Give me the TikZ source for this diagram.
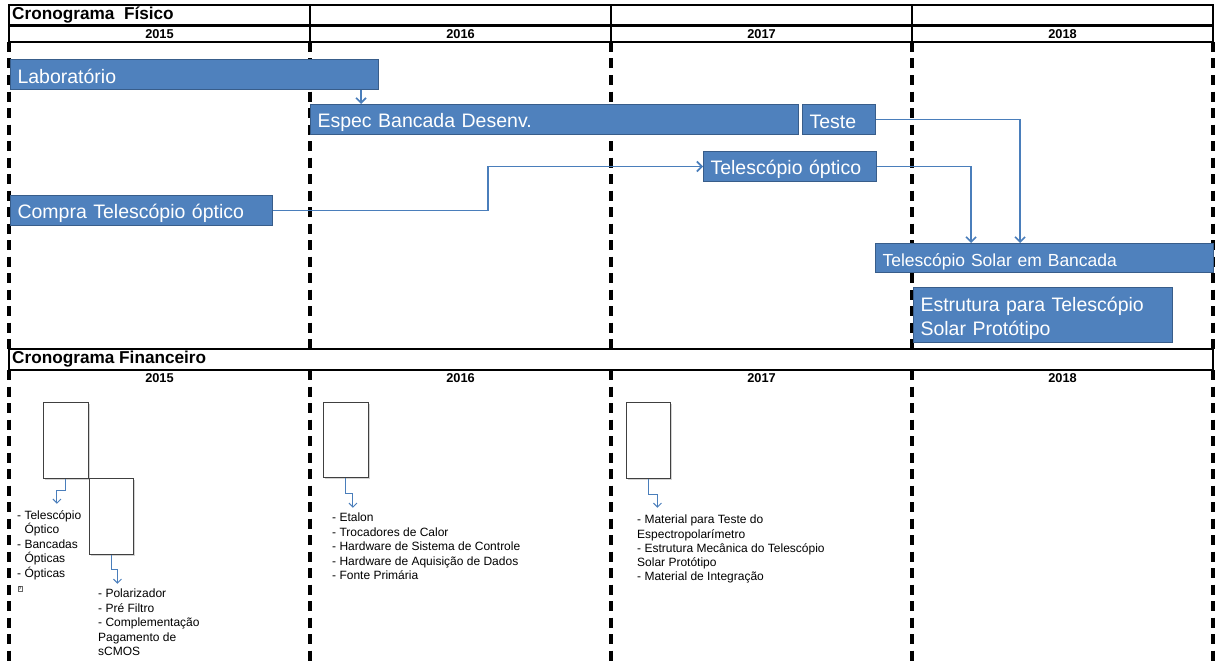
\documentclass[tikz,border=0pt]{standalone}
\usepackage{fontspec}
\setmainfont{Liberation Sans}
\usetikzlibrary{arrows.meta,calc,shadows}
\definecolor{barfill}{RGB}{79,129,189}
\definecolor{barline}{RGB}{56,93,138}
\definecolor{seta}{RGB}{74,126,187}
\begin{document}
\begin{tikzpicture}[x=1pt,y=-1pt,
  frame/.style={line width=2.8pt},
  divisa/.style={line width=3.2pt,dash pattern=on 10pt off 6.5pt},
  bar/.style={draw=barline,line width=1pt,fill=barfill,text=white,anchor=north west,inner xsep=7pt,inner ysep=0pt,minimum height=30pt,align=left,text width=#1,font=\fontsize{19.5}{24}\selectfont,execute at begin node={\rule[-3pt]{0pt}{24pt}}},
  conn/.style={draw=seta,line width=1.6pt,-{Straight Barb[length=5pt,width=10pt]}},
  finbox/.style={draw=black!75,line width=.8pt,fill=white,anchor=north west,inner sep=0pt,drop shadow={opacity=.35,shadow xshift=1.5pt,shadow yshift=-1.5pt}},
  finarrow/.style={draw=seta,line width=1pt,-{Straight Barb[length=4pt,width=8pt]}},
  lista/.style={anchor=north west,align=left,inner sep=0pt,font=\fontsize{12}{14.5}\selectfont},
  glyph/.style={draw=black!60,line width=.4pt,inner xsep=.6pt,inner ysep=.8pt,font=\fontsize{5}{5}\selectfont},
  ano/.style={font=\bfseries\fontsize{12.8}{15}\selectfont,inner sep=0pt},
  titulo/.style={font=\bfseries\fontsize{17.2}{20}\selectfont,inner sep=0pt,anchor=west}]
\useasboundingbox (0,0) rectangle (1215,661);
% linhas tracejadas dos anos
\foreach \x in {9,310,611,912,1213}{
  \draw[divisa] (\x,42) -- (\x,349);
  \draw[divisa] (\x,370) -- (\x,661);
}
% cabecalhos
\draw[frame] (9,5) rectangle (1213,42) (9,25.5) -- (1213,25.5);
\foreach \x in {310,611,912} \draw[frame] (\x,5) -- (\x,42);
\draw[frame] (9,349) rectangle (1213,370);
\node[titulo] (tfis) at (12,15.5) {Cronograma\ \ Físico};
\node[titulo] (tfin) at (12,359.5) {Cronograma Financeiro};
\foreach \x/\ano in {159.5/2015,460.5/2016,761.5/2017,1062.5/2018}{
  \node[ano] (af\ano) at (\x,34) {\ano};
  \node[ano] (ab\ano) at (\x,378) {\ano};
}
% cronograma fisico
\node[bar=354pt] (lab) at (10,59) {Laboratório};
\node[bar=474pt] (espec) at (310,104) {Espec Bancada Desenv.};
\node[bar=59pt] (teste) at (802,104) {Teste};
\node[bar=159pt] (tel) at (703,151) {Telescópio óptico};
\node[bar=248pt] (compra) at (10,195) {Compra Telescópio óptico};
\node[bar=324pt,minimum height=29pt,font=\fontsize{17.5}{21}\selectfont] (bancada) at (875,243) {Telescópio Solar em Bancada};
\node[bar=245pt,minimum height=55pt] (estrutura) at (913,287) {Estrutura para Telescópio\\Solar Protótipo};
\coordinate (labsaida) at ([xshift=-18pt]lab.south east);
\coordinate (meio) at ($(compra.east)!.5!(tel.west)$);
\draw[conn] (labsaida) -- (labsaida |- espec.north);
\draw[conn] (compra.east) -| (meio) |- (tel.west);
\draw[conn] (tel.east) -| ([xshift=96pt]bancada.north west);
\draw[conn] (teste.east) -| ([xshift=145pt]bancada.north west);
% cronograma financeiro
\node[finbox,minimum width=45pt,minimum height=76pt] (f1) at (43,402) {};
\node[finbox,minimum width=44pt,minimum height=76pt] (f2) at (89,478) {};
\node[finbox,minimum width=45pt,minimum height=75pt] (f3) at (323,402) {};
\node[finbox,minimum width=44pt,minimum height=76pt] (f4) at (626,402) {};
\draw[finarrow] (f1.south) -- ++(0,12) -- ++(-9,0) -- ++(0,13);
\draw[finarrow] (f2.south) -- ++(0,15) -- ++(6,0) -- ++(0,14);
\draw[finarrow] (f3.south) -- ++(0,16) -- ++(7,0) -- ++(0,14);
\draw[finarrow] (f4.south) -- ++(0,16) -- ++(9,0) -- ++(0,13);
\node[lista] (l1) at (17,510) {- Telescópio\\\hspace{7.3pt}Óptico\\- Bancadas\\\hspace{7.3pt}Ópticas\\- Ópticas};
\node[glyph] (g1) at (20,589) {?};
\node[lista] (l2) at (98,589) {- Polarizador\\- Pré Filtro\\- Complementação\\Pagamento de\\sCMOS};
\node[lista] (l3) at (332,513) {- Etalon\\- Trocadores de Calor\\- Hardware de Sistema de Controle\\- Hardware de Aquisição de Dados\\- Fonte Primária};
\node[lista,font=\fontsize{12}{14.2}\selectfont] (l4) at (637,515) {- Material para Teste do\\Espectropolarímetro\\- Estrutura Mecânica do Telescópio\\Solar Protótipo\\- Material de Integração};
\end{tikzpicture}
\end{document}
